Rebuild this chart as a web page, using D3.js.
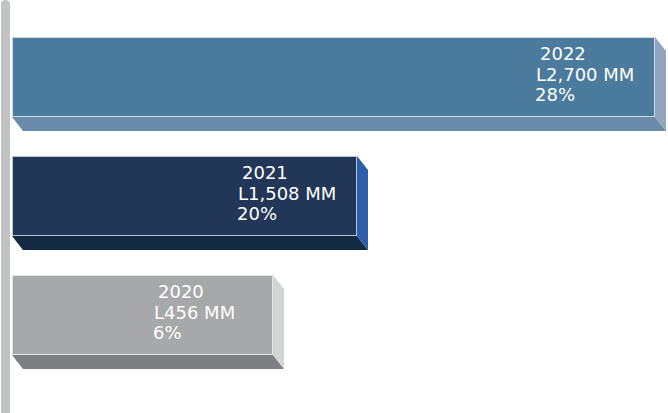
<!DOCTYPE html>
<html>
<head>
<meta charset="utf-8">
<script src="https://cdn.jsdelivr.net/npm/d3@7"></script>
<style>
  html, body { margin: 0; padding: 0; background: #fff; }
  svg { display: block; }
  .bar-label { fill: #fff; font-family: 'DejaVu Sans', sans-serif; font-size: 18px; }
</style>
</head>
<body>
<svg id="chart" width="668" height="413"></svg>
<script>
// data
const years = ['2022', '2021', '2020']
const amounts = [2700, 1508, 456]
const shares = [28, 20, 6]

// styling per bar (front, bottom, side)
const palette = {
    '2022': { front: '#4a7a9c', bottom: '#6a8aaa', side: '#8fa5be', edge: '#cfdae5' },
    '2021': { front: '#223758', bottom: '#142a43', side: '#2d5ea8', edge: '#b9c4d2' },
    '2020': { front: '#a7a8aa', bottom: '#7d7f82', side: '#d3d4d5', edge: '#e6e6e7' }
}

const svg = d3.select('#chart')
const left = 12
const depth = { dx: 11, dy: 14 }

// the infographic does not draw to a linear scale, so map amounts piecewise
const x = d3.scaleLinear()
    .domain([0, 456, 1508, 2700])
    .range([left, 273, 357, 655])

const y = d3.scaleBand()
    .domain(years)
    .range([37, 37 + 119 * 2 + 80])
    .paddingInner(39 / 119)
    .paddingOuter(0)

const rows = years.map((yr, i) => ({ year: yr, amount: amounts[i], share: shares[i] }))

// axis post
svg.append('rect')
    .attr('x', 1)
    .attr('y', 0)
    .attr('width', 9)
    .attr('height', 418)
    .attr('rx', 4.5)
    .attr('fill', '#c1c2c4')

const g = svg.selectAll('g.bar')
    .data(rows)
    .enter()
    .append('g')
    .attr('class', 'bar')

// bottom face
g.append('path')
    .attr('fill', d => palette[d.year].bottom)
    .attr('d', d => {
        const x0 = left, x1 = x(d.amount), yb = y(d.year) + y.bandwidth()
        return `M${x0},${yb}L${x1},${yb}L${x1 + depth.dx},${yb + depth.dy}L${x0 + depth.dx},${yb + depth.dy}Z`
    })

// side face
g.append('path')
    .attr('fill', d => palette[d.year].side)
    .attr('d', d => {
        const x1 = x(d.amount), yt = y(d.year), yb = yt + y.bandwidth()
        return `M${x1},${yt}L${x1 + depth.dx},${yt + depth.dy}L${x1 + depth.dx},${yb + depth.dy}L${x1},${yb}Z`
    })

// front face
g.append('rect')
    .attr('x', left + 0.5)
    .attr('y', d => y(d.year) + 0.5)
    .attr('width', d => x(d.amount) - left - 1)
    .attr('height', y.bandwidth() - 1)
    .attr('fill', d => palette[d.year].front)
    .attr('stroke', d => palette[d.year].edge)
    .attr('stroke-width', 1)

// labels
const fmt = d3.format(',')
const lines = [
    { dx: 5, dy: 23, text: d => d.year },
    { dx: 1, dy: 44, text: d => 'L' + fmt(d.amount) + ' MM' },
    { dx: 0, dy: 64, text: d => d.share + '%' }
]
lines.forEach(line => {
    g.append('text')
        .attr('class', 'bar-label')
        .attr('x', d => x(d.amount) - 120 + line.dx)
        .attr('y', d => y(d.year) + line.dy)
        .text(line.text)
})
</script>
</body>
</html>
